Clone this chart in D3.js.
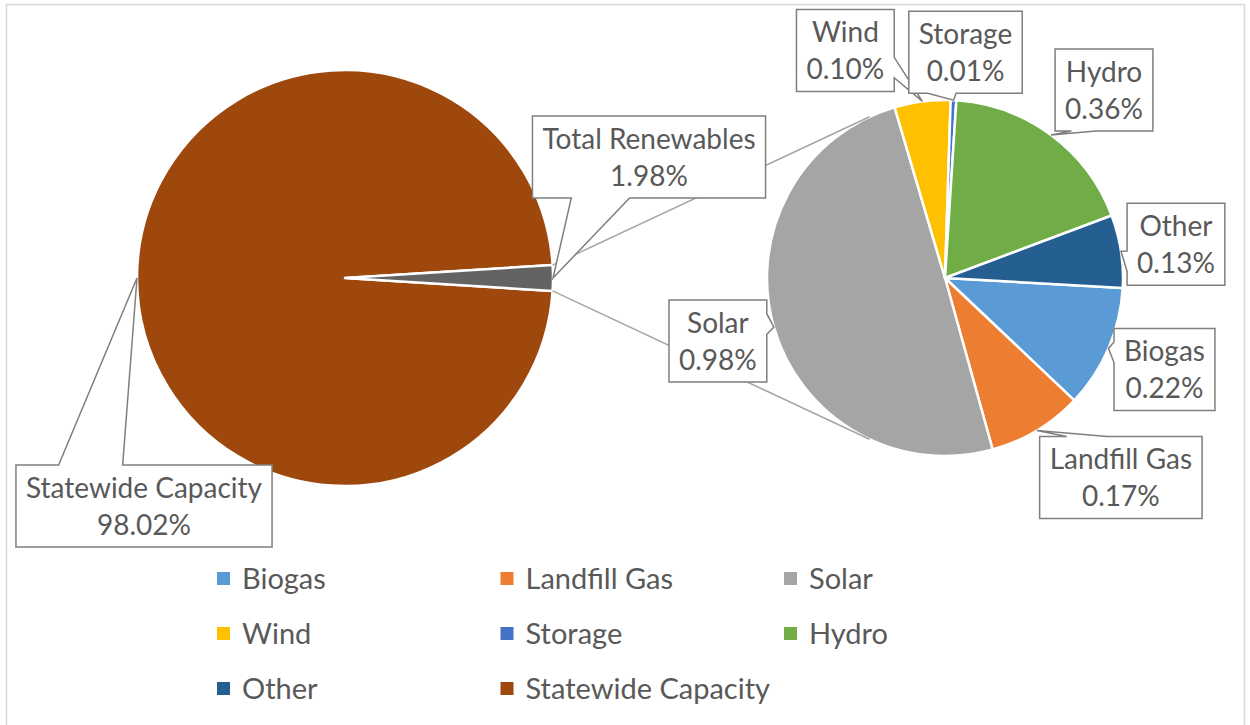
<!DOCTYPE html>
<html>
<head>
<meta charset="utf-8">
<script src="https://cdn.jsdelivr.net/npm/d3@7"></script>
<style>
body { margin: 0; background: #fff; }
text { font-family: Lato, "Open Sans", sans-serif; fill: #595959; }
</style>
</head>
<body>
<div id="chart"></div>
<script>
// first pie
var mainNames = ["Statewide Capacity", "Total Renewables"];
var mainValues = [98.02, 1.98];
var mainColors = ["#9E480E", "#636363"];

// second pie (the split of Total Renewables)
var subNames = ["Biogas", "Landfill Gas", "Solar", "Wind", "Storage", "Hydro", "Other"];
var subValues = [0.22, 0.17, 0.98, 0.10, 0.01, 0.36, 0.13];
var subColors = ["#5B9BD5", "#ED7D31", "#A5A5A5", "#FFC000", "#4472C4", "#70AD47", "#255E91"];

var legendNames = ["Biogas", "Landfill Gas", "Solar", "Wind", "Storage", "Hydro", "Other", "Statewide Capacity"];

// where each callout box sits, relative to the point its pointer touches
var calloutOffsets = {
	"Statewide Capacity": [7, 228],
	"Total Renewables": [96, -121],
	"Biogas": [56, 21],
	"Landfill Gas": [84, 47],
	"Solar": [-56, 14],
	"Wind": [-77, -51],
	"Storage": [12, -48],
	"Hydro": [53, -45],
	"Other": [55, -7]
};

var W = 1250, H = 725;
var svg = d3.select("#chart").append("svg").attr("width", W).attr("height", H);

svg.append("rect").attr("x", 6.5).attr("y", 4.5).attr("width", 1238).attr("height", 740)
	.attr("fill", "none").attr("stroke", "#d9d9d9").attr("stroke-width", 1.5);

var colorOf = {};
mainNames.forEach(function(n, i) { colorOf[n] = mainColors[i]; });
subNames.forEach(function(n, i) { colorOf[n] = subColors[i]; });

// ---- main pie
var mainC = [345, 278], mainR = 208;
var trFrac = mainValues[1] / d3.sum(mainValues);
var mainPie = d3.pie().sort(null).value(function(d) { return d.v; })
	.startAngle(Math.PI / 2 + trFrac * Math.PI)
	.endAngle(Math.PI / 2 + trFrac * Math.PI + 2 * Math.PI);
var mainData = mainPie(mainNames.map(function(n, i) { return {name: n, v: mainValues[i]}; }));
var mainArc = d3.arc().innerRadius(0).outerRadius(mainR);
var mainRim = d3.arc().innerRadius(mainR).outerRadius(mainR);

var gMain = svg.append("g").attr("transform", "translate(" + mainC[0] + "," + mainC[1] + ")");
gMain.selectAll("path").data(mainData).enter().append("path")
	.attr("d", mainArc)
	.attr("fill", function(d) { return colorOf[d.data.name]; })
	.attr("stroke", "#fff").attr("stroke-width", 2.5).attr("stroke-linejoin", "round");

// ---- second pie
var subC = [945, 278], subR = 178;
var subStart = 93.2 * Math.PI / 180;
var subPie = d3.pie().sort(null).value(function(d) { return d.v; })
	.startAngle(subStart).endAngle(subStart + 2 * Math.PI);
var subData = subPie(subNames.map(function(n, i) { return {name: n, v: subValues[i]}; }));
var subArc = d3.arc().innerRadius(0).outerRadius(subR);
var subRim = d3.arc().innerRadius(subR).outerRadius(subR);

var gSub = svg.append("g").attr("transform", "translate(" + subC[0] + "," + subC[1] + ")");
gSub.selectAll("path").data(subData).enter().append("path")
	.attr("d", subArc)
	.attr("fill", function(d) { return colorOf[d.data.name]; })
	.attr("stroke", "#fff").attr("stroke-width", 2.5).attr("stroke-linejoin", "round");

// ---- series lines: from the Total Renewables slice corners, tangent to the second pie
var tr = mainData[1];
var corners = [tr.startAngle, tr.endAngle].map(function(a) {
	return [mainC[0] + mainR * Math.sin(a), mainC[1] - mainR * Math.cos(a)];
}).sort(function(a, b) { return a[1] - b[1]; });

function tangent(p, c, r, sign) {
	var dx = c[0] - p[0], dy = c[1] - p[1];
	var d = Math.sqrt(dx * dx + dy * dy);
	var th = Math.atan2(dy, dx) + sign * Math.asin(r / d);
	var L = Math.sqrt(d * d - r * r);
	return [p[0] + L * Math.cos(th), p[1] + L * Math.sin(th)];
}
var lines = [[corners[0], tangent(corners[0], subC, subR, -1)], [corners[1], tangent(corners[1], subC, subR, 1)]];
svg.append("g").selectAll("line").data(lines).enter().append("line")
	.attr("x1", function(d) { return d[0][0]; }).attr("y1", function(d) { return d[0][1]; })
	.attr("x2", function(d) { return d[1][0]; }).attr("y2", function(d) { return d[1][1]; })
	.attr("stroke", "#a5a5a5").attr("stroke-width", 1.5);

// ---- callouts
function calloutPath(x0, y0, w, h, tx, ty) {
	var cx = x0 + w / 2, cy = y0 + h / 2, dx = tx - cx, dy = ty - cy;
	var x1 = x0 + w, y1 = y0 + h, a, b, pts;
	if (Math.abs(dy) > Math.abs(dx * h / w)) {
		a = dx > 0 ? x0 + w * 7 / 12 : x0 + w * 2 / 12;
		b = dx > 0 ? x0 + w * 10 / 12 : x0 + w * 5 / 12;
		if (dy > 0) pts = [[x0, y0], [x1, y0], [x1, y1], [b, y1], [tx, ty], [a, y1], [x0, y1]];
		else pts = [[x0, y0], [a, y0], [tx, ty], [b, y0], [x1, y0], [x1, y1], [x0, y1]];
	} else {
		a = dy > 0 ? y0 + h * 7 / 12 : y0 + h * 2 / 12;
		b = dy > 0 ? y0 + h * 10 / 12 : y0 + h * 5 / 12;
		if (dx > 0) pts = [[x0, y0], [x1, y0], [x1, a], [tx, ty], [x1, b], [x1, y1], [x0, y1]];
		else pts = [[x0, y0], [x1, y0], [x1, y1], [x0, y1], [x0, b], [tx, ty], [x0, a]];
	}
	return "M" + pts.join("L") + "Z";
}

var callouts = [];
mainData.forEach(function(d) {
	var c = mainRim.centroid(d);
	callouts.push({name: d.data.name, v: d.data.v, tip: [mainC[0] + c[0], mainC[1] + c[1]]});
});
subData.forEach(function(d) {
	var c = subRim.centroid(d);
	callouts.push({name: d.data.name, v: d.data.v, tip: [subC[0] + c[0], subC[1] + c[1]]});
});

var boxH = 82, pad = 10, lineGap = 37;
var gC = svg.append("g").selectAll("g").data(callouts).enter().append("g");
gC.each(function(d) {
	var g = d3.select(this);
	var off = calloutOffsets[d.name];
	var cx = d.tip[0] + off[0], cy = d.tip[1] + off[1];
	var box = g.append("path");
	var t1 = g.append("text").attr("x", cx).attr("y", cy - 8).attr("text-anchor", "middle")
		.style("font-size", "28px").text(d.name);
	var t2 = g.append("text").attr("x", cx).attr("y", cy - 8 + lineGap).attr("text-anchor", "middle")
		.style("font-size", "28px").text(d.v.toFixed(2) + "%");
	var w = Math.max(t1.node().getComputedTextLength(), t2.node().getComputedTextLength()) + 2 * pad;
	box.attr("d", calloutPath(cx - w / 2, cy - boxH / 2, w, boxH, d.tip[0], d.tip[1]))
		.attr("fill", "#fff").attr("stroke", "#7f7f7f").attr("stroke-width", 1.5)
		.attr("stroke-linejoin", "miter");
});

// ---- legend
var legX = d3.scalePoint().domain([0, 1, 2]).range([217, 784]);
var legY = d3.scalePoint().domain([0, 1, 2]).range([578.5, 688.5]);
var leg = svg.append("g").selectAll("g").data(legendNames).enter().append("g")
	.attr("transform", function(d, i) { return "translate(" + legX(i % 3) + "," + legY(Math.floor(i / 3)) + ")"; });
leg.append("rect").attr("x", 0).attr("y", -6.5).attr("width", 13).attr("height", 13)
	.attr("fill", function(d) { return colorOf[d]; });
leg.append("text").attr("x", 25).attr("y", 10).style("font-size", "29px").text(function(d) { return d; });
</script>
</body>
</html>
